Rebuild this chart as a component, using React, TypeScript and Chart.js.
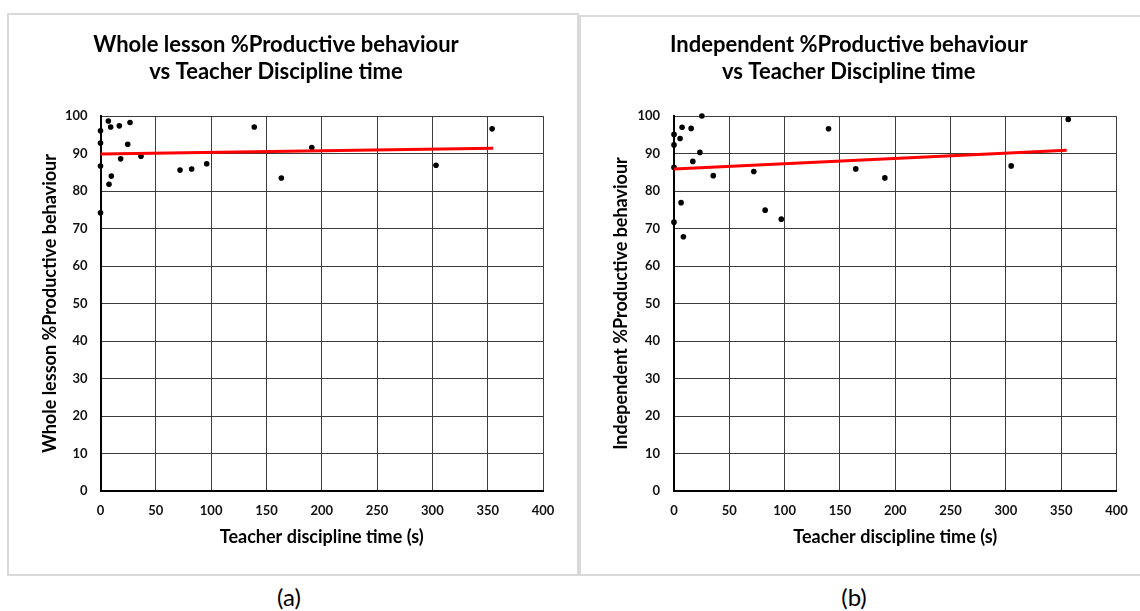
import React, { useEffect, useRef } from 'react';
import { Chart, registerables } from 'chart.js';

Chart.register(...registerables);

// Panel (a): Whole lesson
const disciplineTimeA = [0, 0, 0, 0, 7.1, 7.7, 9.2, 9.8, 17, 18.2, 24.6, 26.7, 36.6, 71.9, 82.4, 96, 139, 163.5, 191, 303.3, 354];
const productiveA = [96.1, 92.8, 86.7, 74.2, 98.7, 81.8, 97.1, 84.0, 97.4, 88.6, 92.5, 98.3, 89.3, 85.6, 85.9, 87.3, 97.1, 83.5, 91.6, 86.9, 96.6];
const trendXA = [0, 355];
const trendYA = [89.9, 91.4];

// Panel (b): Independent
const disciplineTimeB = [0, 0, 0, 0, 5.5, 6.4, 7.3, 8.5, 15.5, 17, 23.4, 25.2, 35.5, 72.1, 82.4, 97, 139.7, 164.3, 190.6, 304.8, 356.4];
const productiveB = [95.1, 92.3, 86.3, 71.7, 94.0, 76.9, 97.0, 67.8, 96.7, 87.9, 90.3, 100, 84.1, 85.2, 74.9, 72.5, 96.6, 85.9, 83.5, 86.7, 99.1];
const trendXB = [0, 355];
const trendYB = [85.9, 90.9];

const titleLinesA = ['Whole lesson %Productive behaviour', 'vs Teacher Discipline time'];
const titleLinesB = ['Independent %Productive behaviour', 'vs Teacher Discipline time'];
const yTitleA = 'Whole lesson %Productive behaviour';
const yTitleB = 'Independent %Productive behaviour';
const xTitle = 'Teacher discipline time (s)';

const xMin = 0, xMax = 400, xStep = 50;
const yMin = 0, yMax = 100, yStep = 10;

const FONT = 'Lato, "DejaVu Sans", sans-serif';

type PanelProps = {
  xs: number[]; ys: number[]; tx: number[]; ty: number[];
  title: string[]; yTitle: string;
  width: number; height: number;
  padRight: number; yWidth: number; xHeight: number;
  titlePadTop: number; titlePadBottom: number;
  yTitlePad: number; yTickPad: number;
};

function ScatterPanel(p: PanelProps) {
  const ref = useRef<HTMLCanvasElement | null>(null);
  useEffect(() => {
    if (!ref.current) return;
    const pts = p.xs.map((x, i) => ({ x, y: p.ys[i] }));
    const trend = p.tx.map((x, i) => ({ x, y: p.ty[i] }));
    const chart = new Chart(ref.current, {
      type: 'scatter',
      data: {
        datasets: [
          { data: trend, showLine: true, borderColor: '#ff0000', backgroundColor: '#ff0000', borderWidth: 3, pointRadius: 0, clip: false } as any,
          { data: pts, backgroundColor: '#000', borderColor: '#000', borderWidth: 0, pointRadius: 2.8, clip: false } as any,
        ],
      },
      options: {
        responsive: false,
        animation: false,
        devicePixelRatio: 1,
        layout: { padding: { left: 0, right: p.padRight, top: 0, bottom: 0 } },
        plugins: {
          legend: { display: false },
          tooltip: { enabled: false },
          title: {
            display: true,
            text: p.title,
            color: '#000',
            font: { family: FONT, weight: 'bold', size: 22, lineHeight: 1.23 },
            padding: { top: p.titlePadTop, bottom: p.titlePadBottom },
          },
        },
        scales: {
          x: {
            type: 'linear', min: xMin, max: xMax,
            ticks: { stepSize: xStep, color: '#111', padding: 12, font: { family: FONT, weight: 'bold', size: 13 } },
            grid: { color: '#3c3c3c', lineWidth: 1, drawTicks: false },
            border: { color: '#000', width: 2 },
            title: { display: true, text: xTitle, color: '#000', font: { family: FONT, weight: 'bold', size: 18 }, padding: { top: 0, bottom: 26 } },
            afterFit: (s: any) => { s.height = p.xHeight; },
          },
          y: {
            type: 'linear', min: yMin, max: yMax,
            ticks: { stepSize: yStep, color: '#111', padding: p.yTickPad, font: { family: FONT, weight: 'bold', size: 13 } },
            grid: { color: '#3c3c3c', lineWidth: 1, drawTicks: false },
            border: { color: '#000', width: 2 },
            title: { display: true, text: p.yTitle, color: '#000', font: { family: FONT, weight: 'bold', size: 18 }, padding: { top: p.yTitlePad, bottom: 0 } },
            afterFit: (s: any) => { s.width = p.yWidth; },
          },
        },
      } as any,
    });
    return () => chart.destroy();
  }, []);
  return <canvas ref={ref} width={p.width} height={p.height} style={{ display: 'block', width: p.width, height: p.height }} />;
}

export default function App() {
  const border = '2px solid #d9d9d9';
  return (
    <div style={{ position: 'absolute', left: 0, top: 0, width: 1140, height: 611, overflow: 'hidden', background: '#fff' }}>
      <div style={{ position: 'absolute', left: 7, top: 13, width: 572, height: 563, border, boxSizing: 'border-box' }}>
        <ScatterPanel xs={disciplineTimeA} ys={productiveA} tx={trendXA} ty={trendYA}
          title={titleLinesA} yTitle={yTitleA}
          width={568} height={559} padRight={34} yWidth={91.5} xHeight={83}
          titlePadTop={16} titlePadBottom={31} yTitlePad={30} yTickPad={13} />
      </div>
      <div style={{ position: 'absolute', left: 579, top: 15, width: 628, height: 561, border, boxSizing: 'border-box' }}>
        <ScatterPanel xs={disciplineTimeB} ys={productiveB} tx={trendXB} ty={trendYB}
          title={titleLinesB} yTitle={yTitleB}
          width={624} height={557} padRight={88.5} yWidth={93} xHeight={83}
          titlePadTop={14.5} titlePadBottom={30.4} yTitlePad={29} yTickPad={14} />
      </div>
      <div style={{ position: 'absolute', left: 249, top: 582, width: 80, textAlign: 'center', fontFamily: FONT, fontSize: 24, lineHeight: '30px', color: '#000' }}>(a)</div>
      <div style={{ position: 'absolute', left: 814, top: 582, width: 80, textAlign: 'center', fontFamily: FONT, fontSize: 24, lineHeight: '30px', color: '#000' }}>(b)</div>
    </div>
  );
}
